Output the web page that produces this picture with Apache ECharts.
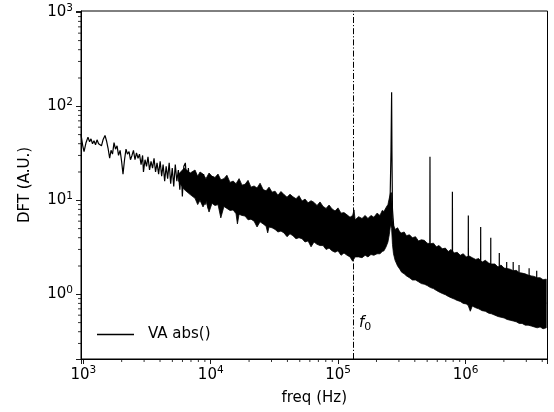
<!DOCTYPE html>
<html>
<head>
<meta charset="utf-8">
<script src="https://cdn.jsdelivr.net/npm/echarts@6/dist/echarts.min.js"></script>
<style>
  html, body { margin: 0; padding: 0; background: #fff; }
  #chart { width: 554px; height: 412px; }
</style>
</head>
<body>
<div id="chart"></div>
<script>
// tick labels (powers of ten)
var xTickExp = [3, 4, 5, 6];
var yTickExp = [0, 1, 2, 3];
var xMinorTicks = [2e3, 3e3, 4e3, 5e3, 6e3, 7e3, 8e3, 9e3,
  2e4, 3e4, 4e4, 5e4, 6e4, 7e4, 8e4, 9e4,
  2e5, 3e5, 4e5, 5e5, 6e5, 7e5, 8e5, 9e5,
  2e6, 3e6, 4e6];
var yMinorTicks = [0.3, 0.4, 0.5, 0.6, 0.7, 0.8, 0.9,
  2, 3, 4, 5, 6, 7, 8, 9,
  20, 30, 40, 50, 60, 70, 80, 90,
  200, 300, 400, 500, 600, 700, 800, 900];

var f0 = 1.315e5;

// the trace: thin low-frequency part, then through the noise band with harmonic spikes
var lineF = [959, 990, 1013, 1050, 1088, 1120, 1149, 1181, 1213, 1247, 1281, 1318, 1352, 1388, 1428,
  1480, 1520, 1563, 1610, 1650, 1695, 1742, 1790, 1840, 1890, 1944, 1997, 2049, 2106, 2163,
  2220, 2285, 2345, 2410, 2475, 2545, 2615, 2688, 2760, 2840, 2920, 2965, 3050, 3135, 3218,
  3310, 3400, 3495, 3590, 3690, 3790, 3900, 4010, 4120, 4230, 4350, 4470, 4590, 4720, 4850,
  4990, 5125, 5270, 5420, 5570, 5720, 5880, 5990, 6150, 6325, 6500, 6680, 6870, 7060, 7255,
  7460, 7670, 7880, 8100, 8330, 8560, 8800, 9050, 9300, 9560, 9830, 10100, 10380, 10670, 10970,
  1.2e4, 2e4, 4e4, 8e4, 1.3e5, 2.2e5, 2.55e5, 2.6e5, 2.63e5, 2.645e5, 2.67e5, 2.8e5, 4e5,
  5.24e5, 5.26e5, 5.28e5, 7.87e5, 7.89e5, 7.91e5, 1.05e6, 1.052e6, 1.054e6,
  1.313e6, 1.315e6, 1.317e6, 1.576e6, 1.578e6, 1.58e6, 1.839e6, 1.841e6, 1.843e6,
  2.102e6, 2.104e6, 2.106e6, 2.365e6, 2.367e6, 2.369e6, 2.628e6, 2.63e6, 2.632e6,
  3.154e6, 3.156e6, 3.158e6, 3.618e6, 3.62e6, 3.622e6, 4.3e6];
var lineV = [50, 38, 33, 41, 47, 42, 45, 40, 43, 39, 44, 40, 42, 38, 44,
  49, 43, 36, 28, 34, 31, 41, 35, 38, 30, 34, 26, 19, 27, 35,
  31, 33, 27, 30, 34, 27, 32, 28, 31, 24, 30, 20, 27, 23, 29,
  21, 26, 22, 28, 20, 25, 19, 26, 18, 24, 16, 23, 17, 25, 15,
  22, 14, 24, 16, 21, 13, 20, 11, 23, 25, 14, 22, 12, 19, 13,
  20, 12, 18, 10, 17, 11, 19, 9, 16, 8.2, 17, 10, 18, 9, 16,
  11, 10, 7, 5, 4, 4.6, 8, 33, 141, 33, 8, 3.3, 2.6,
  2.1, 29, 2.1, 1.65, 12.3, 1.65, 1.4, 6.9, 1.4,
  1.28, 5.2, 1.28, 1.17, 4.0, 1.17, 1.1, 2.75, 1.1,
  1.05, 2.2, 1.05, 1.0, 2.2, 1.0, 0.95, 2.05, 0.95,
  0.9, 1.89, 0.9, 0.87, 1.78, 0.87, 0.8];

// upper edge of the dense noise band
var bandHiF = [5600, 6200, 6900,
  7530, 7900, 8240, 8700, 9180, 9700, 1.024e4, 1.08e4, 1.141e4, 1.2e4, 1.27e4, 1.34e4,
  1.417e4, 1.5e4, 1.58e4, 1.67e4, 1.76e4, 1.86e4, 1.963e4, 2.07e4, 2.19e4, 2.31e4, 2.44e4, 2.58e4,
  2.72e4, 2.87e4, 3.03e4, 3.2e4, 3.37e4, 3.56e4, 3.76e4, 3.97e4, 4.19e4, 4.42e4, 4.67e4, 4.93e4,
  5.21e4, 5.5e4, 5.81e4, 6.13e4, 6.47e4, 6.83e4, 7.21e4, 7.62e4, 8.04e4, 8.49e4, 8.96e4, 9.46e4,
  9.98e4, 1.054e5, 1.112e5, 1.175e5, 1.24e5, 1.3e5, 1.333e5, 1.36e5, 1.45e5, 1.54e5, 1.63e5, 1.714e5,
  1.81e5, 1.91e5, 2.02e5, 2.13e5, 2.22e5, 2.29e5, 2.38e5, 2.46e5, 2.52e5, 2.58e5, 2.63e5, 2.67e5,
  2.72e5, 2.8e5, 2.93e5, 3.05e5, 3.15e5, 3.3e5, 3.44e5, 3.63e5, 3.83e5, 4.05e5, 4.27e5, 4.5e5,
  4.75e5, 5.0e5, 5.3e5, 5.6e5, 5.9e5, 6.2e5, 6.57e5, 6.95e5, 7.32e5, 7.7e5, 8.16e5, 8.6e5,
  9.09e5, 9.6e5, 1.013e6, 1.07e6, 1.13e6, 1.2e6, 1.27e6, 1.35e6, 1.43e6, 1.52e6, 1.6e6, 1.7e6,
  1.8e6, 1.9e6, 2.01e6, 2.12e6, 2.24e6, 2.37e6, 2.5e6, 2.64e6, 2.78e6, 2.94e6, 3.1e6, 3.28e6,
  3.46e6, 3.65e6, 3.85e6, 4.06e6, 4.3e6];
var bandHiV = [19, 22, 19.5,
  21, 18, 20, 19, 17, 19.5, 18, 17.5, 19, 16.5, 17, 18.5,
  15.5, 16, 15, 17, 14.5, 14.8, 16.3, 13.8, 14.2, 13.5, 15.2, 13,
  12.6, 13.8, 12.2, 12.5, 11.3, 12.4, 11.5, 10.8, 11.6, 10.9, 10.4, 11.2,
  9.8, 10.3, 9.4, 9.9, 9.5, 8.8, 9.6, 8.6, 8.2, 8.9, 8.1, 7.7,
  8.3, 7.3, 7.4, 7.0, 6.6, 6.9, 7.9, 6.2, 6.7, 6.4, 6.9, 6.4,
  6.9, 6.6, 7.3, 6.9, 7.8, 7.6, 8.4, 9, 10.5, 12, 12, 6.5,
  5.4, 4.9, 5.1, 4.6, 4.5, 4.6, 4.2, 4.3, 4.0, 4.1, 3.7, 3.8,
  3.75, 3.5, 3.45, 3.5, 3.2, 3.3, 3.05, 3.1, 2.85, 3.0, 2.75, 2.8,
  2.6, 2.7, 2.5, 2.55, 2.45, 2.35, 2.4, 2.2, 2.3, 2.15, 2.1, 2.1,
  1.95, 2.05, 1.9, 1.88, 1.85, 1.78, 1.8, 1.7, 1.68, 1.65, 1.6, 1.57,
  1.55, 1.5, 1.5, 1.43, 1.45];

// lower edge of the dense noise band
var bandLoF = [5600, 6200, 6900,
  7530, 7900, 8240, 8700, 9180, 9700, 1.024e4, 1.08e4, 1.141e4, 1.2e4, 1.27e4, 1.34e4,
  1.417e4, 1.5e4, 1.58e4, 1.62e4, 1.67e4, 1.76e4, 1.86e4, 1.963e4, 2.07e4, 2.19e4, 2.31e4, 2.44e4,
  2.58e4, 2.72e4, 2.8e4, 2.87e4, 3.03e4, 3.2e4, 3.37e4, 3.56e4, 3.76e4, 3.97e4, 4.19e4, 4.42e4,
  4.67e4, 4.93e4, 5.21e4, 5.5e4, 5.81e4, 6.13e4, 6.47e4, 6.83e4, 7.21e4, 7.62e4, 8.04e4, 8.49e4,
  8.96e4, 9.46e4, 9.98e4, 1.054e5, 1.112e5, 1.175e5, 1.24e5, 1.3e5, 1.36e5, 1.45e5, 1.54e5, 1.63e5,
  1.714e5, 1.81e5, 1.91e5, 2.02e5, 2.13e5, 2.22e5, 2.29e5, 2.38e5, 2.46e5, 2.52e5, 2.58e5, 2.63e5,
  2.67e5, 2.72e5, 2.8e5, 2.93e5, 3.05e5, 3.15e5, 3.3e5, 3.44e5, 3.63e5, 3.83e5, 4.05e5, 4.27e5,
  4.5e5, 4.75e5, 5.0e5, 5.3e5, 5.6e5, 5.9e5, 6.2e5, 6.57e5, 6.95e5, 7.32e5, 7.7e5, 8.16e5,
  8.6e5, 9.09e5, 9.6e5, 1.013e6, 1.05e6, 1.09e6, 1.13e6, 1.2e6, 1.27e6, 1.35e6, 1.43e6, 1.52e6,
  1.6e6, 1.7e6, 1.8e6, 1.9e6, 2.01e6, 2.12e6, 2.24e6, 2.37e6, 2.5e6, 2.64e6, 2.78e6, 2.94e6,
  3.1e6, 3.28e6, 3.46e6, 3.65e6, 3.85e6, 4.06e6, 4.3e6];
var bandLoV = [16, 13, 11.5,
  10.5, 9, 10, 8.5, 9.8, 7.5, 9.3, 8.8, 9, 6.5, 8.6, 8.2,
  7.8, 7.9, 7.2, 5.6, 7.1, 6.9, 6.8, 6.2, 6.3, 6.0, 5.2, 5.9,
  5.6, 5.3, 4.5, 5.2, 5.1, 4.9, 4.6, 4.7, 4.5, 4.1, 4.4, 4.2,
  3.9, 4.0, 3.9, 3.6, 3.7, 3.2, 3.6, 3.4, 3.3, 3.3, 3.0, 3.1,
  2.9, 2.8, 2.9, 2.6, 2.75, 2.6, 2.5, 2.25, 2.5, 2.5, 2.45, 2.6,
  2.5, 2.65, 2.6, 2.7, 2.7, 2.85, 2.9, 3.2, 3.6, 4.3, 5.5, 5,
  3.4, 2.7, 2.3, 2.0, 1.85, 1.72, 1.65, 1.57, 1.5, 1.42, 1.42, 1.36,
  1.3, 1.28, 1.24, 1.18, 1.15, 1.1, 1.06, 1.02, 0.99, 0.95, 0.92, 0.89,
  0.86, 0.84, 0.8, 0.79, 0.76, 0.66, 0.75, 0.72, 0.7, 0.67, 0.66, 0.63,
  0.62, 0.6, 0.58, 0.57, 0.56, 0.54, 0.53, 0.52, 0.51, 0.49, 0.49, 0.47,
  0.47, 0.46, 0.45, 0.44, 0.45, 0.43, 0.44];

var X_MIN = 959, X_MAX = 4.4e6, Y_MIN = 0.205, Y_MAX = 1032;
var FONT = 'DejaVu Sans';

function powLabel(v) {
  var e = Math.round(Math.log(v) / Math.LN10);
  if (Math.abs(Math.pow(10, e) - v) / v > 1e-6) return '';
  if (xTickExp.indexOf(e) < 0 && yTickExp.indexOf(e) < 0) return '';
  return '{b|10}{s|' + e + '}';
}
var powRich = {
  b: { fontSize: 15, fontFamily: FONT, color: '#000' },
  s: { fontSize: 10.5, fontFamily: FONT, color: '#000', padding: [0, 0, 9, 0] }
};

var lineData = lineF.map(function (f, i) { return [f, lineV[i]]; });

function bandItem(params, api) {
  if (params.dataIndex !== 0) return null;
  var pts = [];
  for (var i = 0; i < bandHiF.length; i++) pts.push(api.coord([bandHiF[i], bandHiV[i]]));
  for (var j = bandLoF.length - 1; j >= 0; j--) pts.push(api.coord([bandLoF[j], bandLoV[j]]));
  return { type: 'polygon', shape: { points: pts }, style: { fill: '#000', stroke: '#000', lineWidth: 0.8 } };
}

function xMinorItem(params, api) {
  var p = api.coord([api.value(0), Y_MIN]);
  return { type: 'line', shape: { x1: p[0], y1: p[1], x2: p[0], y2: p[1] + 3 }, style: { stroke: '#000', lineWidth: 0.8 } };
}
function yMinorItem(params, api) {
  var p = api.coord([X_MIN, api.value(1)]);
  return { type: 'line', shape: { x1: p[0] - 3, y1: p[1], x2: p[0], y2: p[1] }, style: { stroke: '#000', lineWidth: 0.8 } };
}

var chart = echarts.init(document.getElementById('chart'));
chart.setOption({
  animation: false,
  backgroundColor: '#fff',
  grid: { left: 81, right: 6.5, top: 11, bottom: 53, show: true, borderColor: '#000', borderWidth: 1 },
  legend: {
    data: ['VA abs()'],
    left: 92, top: 322,
    icon: 'rect', itemWidth: 37, itemHeight: 1.4,
    textStyle: { fontSize: 15, fontFamily: FONT, color: '#000', padding: [0, 0, 0, 9] }
  },
  xAxis: {
    type: 'log', logBase: 10, min: X_MIN, max: X_MAX,
    name: 'freq (Hz)', nameLocation: 'middle', nameGap: 32,
    nameTextStyle: { fontSize: 15, fontFamily: FONT, color: '#000' },
    axisLine: { lineStyle: { color: '#000', width: 1 } },
    axisTick: { show: true, inside: false, length: 5, lineStyle: { color: '#000', width: 0.9 } },
    axisLabel: { formatter: powLabel, rich: powRich, margin: 6, color: '#000' },
    splitLine: { show: false }
  },
  yAxis: {
    type: 'log', logBase: 10, min: Y_MIN, max: Y_MAX,
    name: 'DFT (A.U.)', nameLocation: 'middle', nameGap: 48, nameRotate: 90,
    nameTextStyle: { fontSize: 15, fontFamily: FONT, color: '#000' },
    axisLine: { lineStyle: { color: '#000', width: 1 } },
    axisTick: { show: true, inside: false, length: 5, lineStyle: { color: '#000', width: 0.9 } },
    axisLabel: { formatter: powLabel, rich: powRich, margin: 8, color: '#000' },
    splitLine: { show: false }
  },
  series: [
    {
      type: 'custom', name: 'band', silent: true, z: 2,
      renderItem: bandItem,
      data: [[bandHiF[0], bandHiV[0]]]
    },
    {
      type: 'line', name: 'VA abs()', z: 3,
      data: lineData, showSymbol: false, symbol: 'none',
      lineStyle: { color: '#000', width: 1.2 },
      itemStyle: { color: '#000' },
      markLine: {
        silent: true, symbol: 'none',
        label: { show: false },
        lineStyle: { color: '#000', width: 1, type: [6, 2, 1.2, 2] },
        data: [{ xAxis: f0 }]
      }
    },
    {
      type: 'custom', name: 'xminor', silent: true, clip: false,
      renderItem: xMinorItem,
      data: xMinorTicks.map(function (v) { return [v, Y_MIN]; })
    },
    {
      type: 'custom', name: 'yminor', silent: true, clip: false,
      renderItem: yMinorItem,
      data: yMinorTicks.map(function (v) { return [X_MIN, v]; })
    }
  ],
  graphic: [{
    type: 'text', left: 359, top: 316,
    style: {
      text: '{i|f}{sub|0}',
      rich: {
        i: { fontSize: 15, fontFamily: FONT, fontStyle: 'italic', fill: '#000' },
        sub: { fontSize: 11, fontFamily: FONT, fill: '#000', padding: [8, 0, 0, 0] }
      }
    }
  }]
});
</script>
</body>
</html>
